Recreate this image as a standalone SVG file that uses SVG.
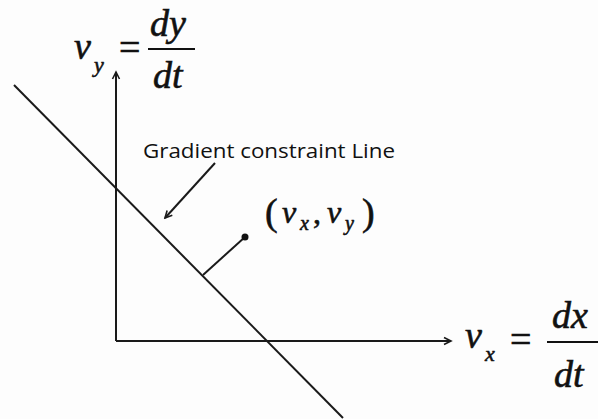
<svg xmlns="http://www.w3.org/2000/svg" width="598" height="419" viewBox="0 0 598 419">
<style>
.ln{stroke:#1a1a1a;stroke-width:2;fill:none}
.m{font-family:"Liberation Serif",serif;font-style:italic;fill:#111;stroke:#111;stroke-width:0.6}
.mu{font-family:"Liberation Serif",serif;fill:#111;stroke:#111;stroke-width:0.6}
.lbl{font-family:"Open Sans","Noto Sans",sans-serif;fill:#111}
</style>
<defs>
<marker id="ah" markerWidth="10" markerHeight="10" refX="8" refY="5" orient="auto" markerUnits="userSpaceOnUse">
<path d="M1,1.5 L8,5 L1,8.5" fill="none" stroke="#1a1a1a" stroke-width="1.6"/>
</marker>
</defs>
<rect width="598" height="419" fill="#fdfdfd"/>
<g id="connectors">
<path class="ln" d="M116,341 L116,72" marker-end="url(#ah)"/>
<path class="ln" d="M116,341 L451,341" marker-end="url(#ah)"/>
<path class="ln" d="M14,85 L343,418"/>
<path class="ln" d="M215,163 L165,218" stroke-width="1.6" marker-end="url(#ah)"/>
<path class="ln" d="M245,237 L203,275" stroke-width="1.6"/>
</g>
<g id="point"><circle cx="245" cy="237" r="3.5" fill="#111"/></g>
<g id="label-gradient"><text class="lbl" x="143" y="158" font-size="20" textLength="252" lengthAdjust="spacingAndGlyphs">Gradient constraint Line</text></g>
<g id="label-point">
<text class="mu" x="265" y="225" font-size="38">(</text>
<text class="m" x="282" y="223" font-size="32">v</text>
<text class="m" x="300" y="230" font-size="20">x</text>
<text class="mu" x="313" y="223" font-size="32">,</text>
<text class="m" x="327" y="223" font-size="32">v</text>
<text class="m" x="345" y="230" font-size="20">y</text>
<text class="mu" x="362" y="225" font-size="38">)</text>
</g>
<g id="label-vy">
<text class="m" x="74" y="59" font-size="38">v</text>
<text class="m" x="94" y="72" font-size="22">y</text>
<text class="mu" x="119" y="60" font-size="38">=</text>
<line x1="148" y1="49" x2="195" y2="49" stroke="#111" stroke-width="2"/>
<text class="m" x="150" y="36" font-size="38">dy</text>
<text class="m" x="153" y="88" font-size="38">dt</text>
</g>
<g id="label-vx">
<text class="m" x="465" y="348" font-size="38">v</text>
<text class="m" x="485" y="361" font-size="22">x</text>
<text class="mu" x="510" y="352" font-size="38">=</text>
<line x1="547" y1="342" x2="598" y2="342" stroke="#111" stroke-width="2"/>
<text class="m" x="552" y="328" font-size="38">dx</text>
<text class="m" x="554" y="387" font-size="38">dt</text>
</g>
</svg>
